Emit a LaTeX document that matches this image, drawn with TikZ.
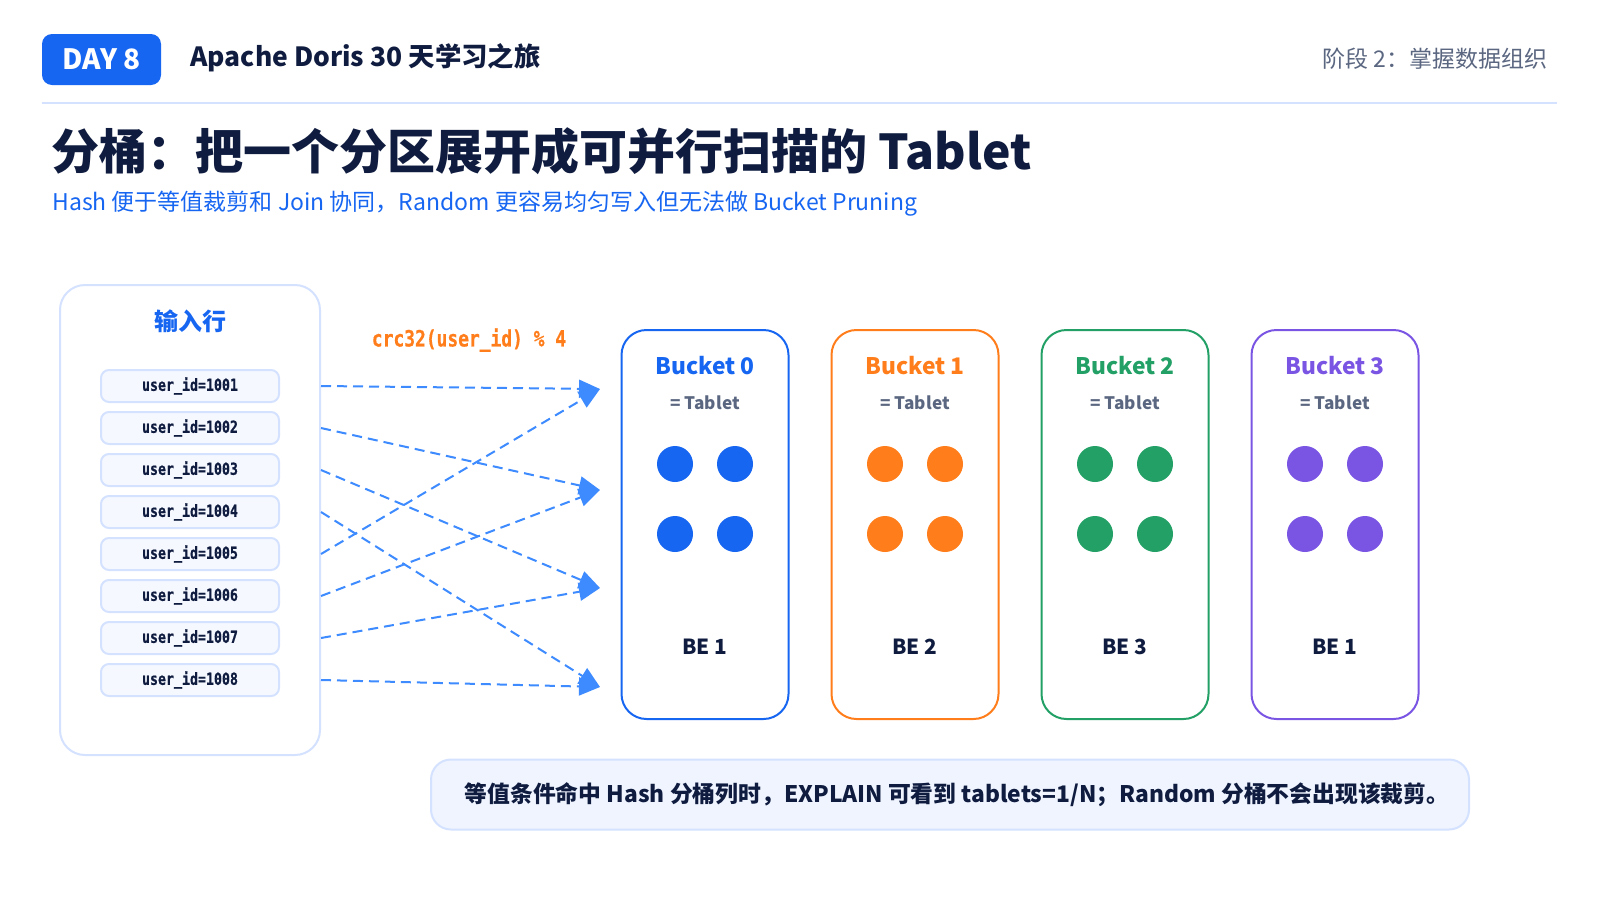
\documentclass[tikz,border=0pt]{standalone}
\usepackage{fontspec}
\setmainfont{Noto Sans CJK SC}
\newfontfamily\rowmono[FakeStretch=0.8, BoldFont={DejaVu Sans Mono Bold}, BoldFeatures={FakeStretch=0.8, FakeBold=0.6}]{DejaVu Sans Mono}
\usepackage{xcolor}
\usetikzlibrary{positioning,calc,arrows.meta}
\definecolor{navy}{HTML}{0F1C3F}
\definecolor{slate}{HTML}{5B6781}
\definecolor{bblue}{HTML}{1766F2}
\definecolor{borange}{HTML}{FF7D1A}
\definecolor{bgreen}{HTML}{22A066}
\definecolor{bpurple}{HTML}{7A55E4}
\definecolor{flowc}{HTML}{3D8BFF}
\definecolor{paleline}{HTML}{D4E2FF}
\definecolor{palefill}{HTML}{F5F8FF}
\definecolor{notefill}{HTML}{EFF4FF}
\tikzset{
  badge/.style    = {fill=bblue, rounded corners=5pt, text=white, font=\fontsize{14}{17}\selectfont\bfseries,
                     minimum width=59.5pt, minimum height=25.5pt, inner sep=0pt},
  series/.style   = {anchor=west, text=navy, font=\fontsize{13.2}{16}\selectfont\bfseries, inner sep=0pt},
  stage/.style    = {anchor=east, text=slate, font=\fontsize{11.5}{14}\selectfont, inner sep=0pt},
  rule/.style     = {draw=paleline, line width=1pt},
  headline/.style = {anchor=west, text=navy, font=\fontsize{24}{28}\selectfont\bfseries, inner sep=0pt},
  subline/.style  = {anchor=west, text=bblue, font=\fontsize{11.5}{14}\selectfont, inner sep=0pt},
  inbox/.style    = {draw=paleline, fill=white, rounded corners=12.5pt, line width=1pt,
                     minimum width=130pt, minimum height=235pt},
  inhdr/.style    = {text=bblue, font=\fontsize{12}{14}\selectfont\bfseries, inner sep=0pt},
  rowbox/.style   = {draw=paleline, fill=palefill, rounded corners=4pt, line width=1pt,
                     minimum width=89pt, minimum height=16pt, inner sep=0pt,
                     text=navy, font=\rowmono\bfseries\fontsize{8.3}{10}\selectfont},
  hashlbl/.style  = {text=borange, font=\rowmono\bfseries\fontsize{11.2}{13}\selectfont, inner sep=0pt},
  bucket/.style   = {draw=#1, fill=white, rounded corners=12.5pt, line width=1pt,
                     minimum width=83.5pt, minimum height=194.5pt},
  bktitle/.style  = {text=#1, font=\fontsize{11.4}{14}\selectfont\bfseries, inner sep=0pt},
  tabnote/.style  = {text=slate, font=\fontsize{8.6}{11}\selectfont\bfseries, inner sep=0pt},
  dot/.style      = {circle, fill=#1, minimum size=18pt, inner sep=0pt},
  belbl/.style    = {text=navy, font=\fontsize{10.4}{13}\selectfont\bfseries, inner sep=0pt},
  flow/.style     = {-{Triangle[length=10.5pt,width=9pt]}, draw=flowc, line width=1pt,
                     dash pattern=on 5pt off 3pt},
  note/.style     = {draw=paleline, fill=notefill, rounded corners=10pt, line width=1pt,
                     minimum width=519pt, minimum height=35pt, text=navy,
                     font=\fontsize{11.4}{14}\selectfont\bfseries},
}

\begin{document}
\begin{tikzpicture}[x=0.5pt,y=-0.5pt]
  \useasboundingbox[fill=white] (0,0) rectangle (1600,900);

  % header
  \node[badge] (day) at (101.5,59.5) {DAY 8};
  \node[series] (series) at (190,58) {Apache Doris 30 天学习之旅};
  \node[stage] (stage) at (1548,59) {阶段 2：掌握数据组织};
  \draw[rule] (42,103) -- (1557,103);
  \node[headline] (title) at (51,151) {分桶：把一个分区展开成可并行扫描的 Tablet};
  \node[subline] (sub) at (52,204) {Hash 便于等值裁剪和 Join 协同，Random 更容易均匀写入但无法做 Bucket Pruning};

  % ---------- input rows ----------
  \node[inbox] (rows) at (190,520) {};
  \node[inhdr] (inhdr) at (190,321) {输入行};
  \foreach \i in {1,...,8} {
    \node[rowbox] (r\i) at (190,{386+42*(\i-1)}) {user\_id=100\i};
  }
  \node[hashlbl] (hash) at (469,340) {crc32(user\_id) \% 4};

  % ---------- buckets ----------
  \foreach \i/\c/\be in {0/bblue/1, 1/borange/2, 2/bgreen/3, 3/bpurple/1} {
    \pgfmathsetmacro{\bx}{705+210*\i}
    \node[bucket=\c] (b\i) at (\bx,524.5) {};
    \node[bktitle=\c] (b\i-title) at (\bx,366) {Bucket \i};
    \node[tabnote] (b\i-tab) at (\bx,403) {= Tablet};
    \node[dot=\c] at (\bx-30,464) {};
    \node[dot=\c] at (\bx+30,464) {};
    \node[dot=\c] at (\bx-30,534) {};
    \node[dot=\c] at (\bx+30,534) {};
    \node[belbl] (b\i-be) at (\bx,647) {BE \be};
  }

  % hash targets
  \coordinate (t0) at (600,389);
  \coordinate (t1) at (600,490);
  \coordinate (t2) at (600,588);
  \coordinate (t3) at (600,687);
  \foreach \i/\t in {1/0, 2/1, 3/2, 4/3, 5/0, 6/1, 7/2, 8/3} {
    \draw[flow] (rows.east |- r\i) -- (t\t);
  }

  % ---------- note ----------
  \node[note] (note) at (950,794.5) {\hspace*{7pt}等值条件命中 Hash 分桶列时，EXPLAIN 可看到 tablets=1/N；Random 分桶不会出现该裁剪。};
\end{tikzpicture}
\end{document}
